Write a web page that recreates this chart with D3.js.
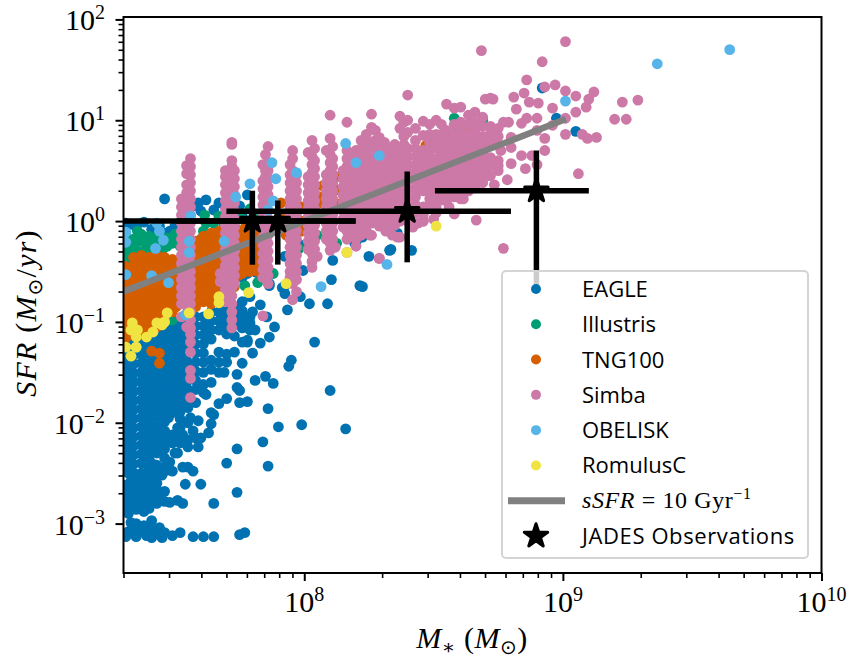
<!DOCTYPE html>
<html>
<head>
<meta charset="utf-8">
<script src="https://cdn.jsdelivr.net/npm/d3@7"></script>
<style>
  html, body { margin: 0; background: #fff; }
  svg { display: block; }
</style>
</head>
<body>
<div id="chart"></div>
<script>
// SFR vs stellar mass, simulations against JADES. All values are log10(M) and log10(SFR).

const legendNames = ["EAGLE", "Illustris", "TNG100", "Simba", "OBELISK", "RomulusC"];
const legendColors = ["#0072B2", "#009E73", "#D55E00", "#CC79A7", "#56B4E9", "#F0E442"];

const xMajor = [8, 9, 10];
const xMinor = [2e7, 3e7, 4e7, 5e7, 6e7, 7e7, 8e7, 9e7, 2e8, 3e8, 4e8, 5e8, 6e8, 7e8, 8e8, 9e8, 2e9, 3e9, 4e9, 5e9, 6e9, 7e9, 8e9, 9e9];
const yMajor = [-3, -2, -1, 0, 1, 2];
const yMinorFactors = [2, 3, 4, 5, 6, 7, 8, 9];

// columns: [log mass, [log sfr, ...]]
const eagleColumns = [
  [7.31, [-1.1,-1.19,-1.28,-1.37,-1.46,-1.55,-1.64,-1.73,-1.82,-1.91,-2.0,-2.09,-2.18,-2.27,-2.36,-2.42,-2.62,-2.7,-2.78,-2.85]],
  [7.34, [-1.15,-1.24,-1.33,-1.42,-1.51,-1.6,-1.69,-1.78,-1.87,-1.96,-2.05,-2.14,-2.23,-2.32,-2.41,-2.5,-2.66,-2.74,-2.82]],
  [7.37, [-1.05,-1.14,-1.23,-1.32,-1.41,-1.5,-1.59,-1.68,-1.77,-1.86,-1.95,-2.04,-2.13,-2.22,-2.31,-2.4,-2.5,-2.6,-2.7,-2.8]],
  [7.385, [-1.1,-1.28,-1.46,-1.64,-1.82,-2.0,-2.18,-2.36,-2.55]],
  [7.40, [-1.1,-1.19,-1.28,-1.37,-1.46,-1.55,-1.64,-1.73,-1.82,-1.91,-2.0,-2.09,-2.18,-2.27,-2.36,-2.45,-2.6,-2.72,-2.85]],
  [7.415, [-1.15,-1.33,-1.51,-1.69,-1.87,-2.05,-2.23,-2.41]],
  [7.43, [-.95,-1.04,-1.13,-1.22,-1.31,-1.4,-1.49,-1.58,-1.67,-1.76,-1.85,-1.94,-2.03,-2.12,-2.21,-2.3,-2.42,-2.66,-2.8]],
  [7.46, [-1.0,-1.09,-1.18,-1.27,-1.36,-1.45,-1.54,-1.63,-1.72,-1.81,-1.9,-1.99,-2.08,-2.17,-2.26,-2.35,-2.68,-2.78]],
  [7.475, [-1.05,-1.14,-1.23,-1.32,-1.41,-1.5,-1.59,-1.68,-1.77,-1.86,-1.95]],
  [7.49, [-1.0,-1.09,-1.18,-1.27,-1.36,-1.45,-1.54,-1.63,-1.72,-1.81,-1.9,-2.2]],
  [7.505, [-1.05,-1.14,-1.23,-1.32,-1.41,-1.5,-1.59,-1.68,-1.77,-1.86]],
  [7.52, [-1.0,-1.08,-1.17,-1.26,-1.35,-1.44,-1.53,-1.62,-1.71,-1.8,-1.89,-1.96,-2.05]],
  [7.535, [-1.05,-1.13,-1.22,-1.31,-1.4,-1.49,-1.58,-1.67]],
  [7.55, [-.95,-1.04,-1.13,-1.22,-1.31,-1.4,-1.49,-1.58,-1.67,-1.76,-1.85]],
  [7.58, [-.95,-1.04,-1.13,-1.22,-1.31,-1.4,-1.49,-1.58,-1.67,-1.8]],
  [7.61, [-.95,-1.04,-1.13,-1.22,-1.31,-1.4,-1.5,-1.62,-1.7]],
  [7.64, [-.9,-.99,-1.08,-1.17,-1.38,-1.47,-1.6]],
  [7.67, [-.9,-.99,-1.08,-1.3,-1.4,-1.5]],
  [7.70, [-.85,-.94,-1.03,-1.12,-1.32,-1.4]],
  [7.73, [-.85,-.94,-1.03,-1.14,-1.3]],
  [7.76, [-.8,-.89,-.98,-1.06,-1.2]],
  [7.79, [-.75,-.95,-1.08]]
];
const eagleScatter = [
  [8.04,-1.2],[8.1,-1.68],[8.16,-2.06],[7.99,-2.02],[7.9,-2.04],[7.84,-2.19],[7.86,-1.86],[7.74,-2.26],[7.7,-2.4],[7.86,-2.43],
  [7.74,-2.69],[7.65,-2.8],[7.54,-2.61],[7.6,-2.61],[7.48,-2.79],[7.51,-2.77],[7.53,-2.8],
  [7.31,-3.13],[7.33,-2.99],[7.35,-3.13],[7.35,-3.0],[7.38,-3.02],[7.41,-2.97],[7.41,-3.14],[7.44,-3.04],[7.45,-3.14],[7.49,-3.12],
  [7.52,-3.09],[7.57,-3.13],[7.61,-3.13],[7.65,-3.13],[7.75,-3.11],[7.77,-3.09],[7.32,-3.08],[7.37,-3.08],[7.39,-3.12],[7.42,-3.07],
  [7.34,-3.06],[7.4,-3.03],[7.43,-3.1],[7.46,-3.09],
  [7.69,-1.5],[7.74,-1.52],[7.81,-1.58],[7.85,-1.54],[7.88,-1.61],[7.94,-1.44],[7.95,-1.38],[7.8,-1.31],[7.76,-1.41],[7.78,-1.2],
  [7.83,-1.21],[7.74,-1.65],[7.75,-1.68],[7.62,-1.72],[7.7,-1.76],[7.67,-1.81],[7.75,-1.8],[7.78,-1.79],[7.64,-1.9],[7.65,-1.92],
  [7.59,-1.98],[7.64,-2.01],[7.63,-2.1],[7.6,-2.15],[7.59,-2.24],[7.55,-2.0],[7.51,-2.05],[7.49,-2.12],[7.48,-2.17],[7.55,-2.17],
  [7.55,-2.24],[7.51,-2.3],[7.48,-2.39],[7.45,-2.52],[7.4,-2.52],[7.49,-2.48],[7.53,-2.44],[7.55,-2.44],[7.57,-2.48],
  [7.995,-.49],[7.99,-.24],[7.925,-.35],[8.11,-.39],[8.2,-.21],[8.225,-.16],[8.25,-.35],[8.105,-.58],[8.225,-.65],[8.33,-.29],
  [7.925,-.64],[7.925,-.72],[7.985,-.75],[7.815,-.51],[7.78,-.52],[7.76,-.56],[7.865,-.62],[8.335,-.28],[8.415,-.29],[8.195,-.22],
  [8.36,-.12],[8.92,1.32],[8.975,1.02],[9.05,.89],[8.73,.78],[8.02,-.82],[8.09,-.82],[7.935,-.88],[7.915,-.66],[8.215,-.64],
  [7.865,-1.15],[7.885,-1.05],[7.78,-1.18],[7.855,-.95],[7.83,-.83],[7.8,-.9],[7.79,-1.01],[7.81,-1.08],[7.865,-.64],[7.815,-.49],
  [7.46,.22],[7.62,.21],[7.59,.18],[7.67,.18],[7.65,.11],[7.78,.26],[7.38,-.01],[7.33,-.03],[7.35,-.06],[7.41,-.08],[7.44,-.05],
  [7.46,-.12],[7.48,-.1],[7.5,-.05],[7.52,-.02],[7.53,.05],[7.6,.1],[7.57,.15],[7.72,.1],[7.75,.15],[7.76,.05],[7.7,.05],[7.31,-.02],
  [7.32,-2.5],[7.33,-2.58],[7.35,-2.56],[7.36,-2.62],[7.38,-2.55],[7.39,-2.66],[7.41,-2.66],[7.42,-2.55],[7.43,-2.6],[7.44,-2.72],
  [7.42,-2.78],[7.39,-2.78],[7.36,-2.74],[7.33,-2.74],[7.35,-2.86],[7.38,-2.88],[7.32,-2.9],[7.44,-2.48],[7.47,-2.47],[7.5,-2.3],
  [7.52,-2.2],[7.5,-2.14],[7.53,-2.12],[7.56,-1.95],[7.57,-2.08],[7.58,-2.15],[7.46,-2.44],[7.43,-2.48]
];

const illustrisPoints = [
  [7.31,-.15],[7.31,-.3],[7.33,-.28],[7.36,-.2],[7.37,-.13],[7.39,-.25],[7.4,-.15],[7.42,-.21],[7.44,-.28],[7.47,-.25],[7.5,-.13],
  [7.49,-.22],[7.52,-.25],[7.46,-.17],[7.34,-.18],[7.36,-.3],[7.41,-.3],[7.62,-.02],[7.61,-.1],[7.6,-.18],[7.63,-.22],[7.67,.05],
  [7.65,-.02],[7.69,-.03],[7.68,-.12],[7.66,-.12],[7.615,.06],[7.79,.12],[8.05,-.14],[8.22,-.01],[8.125,-.22],[7.88,-.52],[7.77,-.64],
  [7.82,-.61],[7.98,-.27],[8.29,.19],[8.7,.54],[8.58,1.02],[8.69,1.0],[8.59,.85],[8.59,.9],[8.23,-.01],[7.49,-.98],[7.8,-.05],
  [7.325,-.22],[7.345,-.27],[7.355,-.1],[7.38,-.19],[7.385,-.3],[7.405,-.24],[7.425,-.3],[7.435,-.16],[7.455,-.27],[7.48,-.17],
  [7.51,-.2],[7.53,-.18],[7.32,-.37],[7.345,-.33],[7.64,-.16],[7.665,-.18],[7.7,-.08],[7.76,.02],[7.78,-.02],[7.82,.06]
];

const tngColumns = [
  [7.31, [-.45,-.53,-.62,-.71,-.8,-.89,-.98,-1.07,-1.16]],
  [7.325, [-.49,-.58,-.67,-.76,-.85,-.94,-1.03,-1.12]],
  [7.34, [-.36,-.45,-.54,-.63,-.72,-.81,-.9,-.99,-1.1]],
  [7.355, [-.4,-.49,-.58,-.67,-.76,-.85,-.94,-1.03]],
  [7.37, [-.34,-.42,-.51,-.6,-.69,-.78,-.87,-.96,-1.05,-1.12]],
  [7.385, [-.38,-.47,-.56,-.65,-.74,-.83,-.92,-1.01]],
  [7.40, [-.36,-.45,-.54,-.63,-.72,-.81,-.9,-.99,-1.08]],
  [7.415, [-.4,-.49,-.58,-.67,-.76,-.85,-.94,-1.03]],
  [7.43, [-.34,-.42,-.51,-.6,-.69,-.78,-.87,-.96,-1.05]],
  [7.445, [-.38,-.47,-.56,-.65,-.74,-.83,-.92]],
  [7.46, [-.36,-.45,-.54,-.63,-.72,-.81,-.9,-.96]],
  [7.475, [-.4,-.49,-.58,-.67,-.76,-.85]],
  [7.49, [-.38,-.47,-.56,-.65,-.74,-.83,-.9]],
  [7.505, [-.42,-.51,-.6,-.69,-.78,-.85]],
  [7.52, [-.4,-.49,-.58,-.67,-.76,-.82]],
  [7.55, [-.3,-.39,-.48,-.57,-.66,-.75,-.8]],
  [7.58, [-.2,-.29,-.38,-.47,-.56,-.65,-.74,-.85]],
  [7.595, [-.25,-.34,-.43,-.52,-.61,-.7]],
  [7.61, [-.15,-.24,-.33,-.42,-.51,-.6,-.69,-.8]],
  [7.625, [-.2,-.29,-.38,-.47,-.56,-.65,-.74]],
  [7.64, [-.12,-.21,-.3,-.39,-.48,-.57,-.66,-.75,-.82]],
  [7.655, [-.17,-.26,-.35,-.44,-.53,-.62,-.71]],
  [7.67, [-.1,-.19,-.28,-.37,-.46,-.55,-.64,-.75]],
  [7.685, [-.15,-.24,-.33,-.42,-.51,-.6,-.68]],
  [7.70, [-.1,-.19,-.28,-.37,-.46,-.55,-.64,-.72]],
  [7.73, [-.05,-.14,-.23,-.32,-.41,-.5,-.58,-.65]],
  [7.745, [-.09,-.18,-.27,-.36,-.45,-.54]],
  [7.76, [-.1,-.19,-.28,-.37,-.46,-.52]],
  [7.775, [-.05,-.14,-.23,-.32,-.41,-.48]],
  [7.79, [0,-.09,-.18,-.27,-.36,-.45,-.5]],
  [7.82, [-.1,-.19,-.28,-.37,-.45,-.5]]
];
const tngScatter = [
  [7.41,-1.29],[7.44,-1.31],[7.44,-1.41],[7.62,-.74],[7.58,-.83],[8.49,.73],[8.47,.75],[8.5,.74],[8.63,.87],[8.66,.9],
  [7.99,.14],[7.99,0],[7.99,-.1],[7.93,-.14],[8.06,.18],[8.07,.35],[8.12,.18],[8.125,.31],[8.18,.33],[8.125,.44],
  [8.06,.24],[8.265,.39],[8.32,.36],[7.91,.18],[7.91,.05],[8.04,.02]
];

const simbaColumns = [
  [7.525, [.22,.14,.06,-.02,-.1,-.18,-.26,-.34,-.42,-.5,-.58,-.66,-.74,-.82,-.95]],
  [7.545, [.55,.47,.36,.28,.2,.12,.04,-.04,-.12,-.2,-.28,-.36,-.44,-.52,-.6,-.68,-.76,-.84,-.92,-1.05]],
  [7.56, [.62,.54,.46,.38,.3,.22,.14,.06,-.02,-.1,-.18,-.26,-.34,-.42,-.5,-.58,-.66,-.74,-.82,-.9,-.98,-1.06,-1.12,-1.2,-1.3,-1.48,-1.56,-1.75]],
  [7.675, [-.52,-.6]],
  [7.695, [.5,.44,.36,.28,.2,.12,.04,-.04,-.12,-.2,-.28,-.36,-.44,-.52,-.6,-.68,-.76,-.8]],
  [7.72, [.78,.76,.6,.54,.46,.38,.3,.22,.14,.06,-.02,-.1,-.18,-.26,-.34,-.42,-.5,-.58,-.66,-.74,-.82,-.9,-.98,-1.06]],
  [7.73, [.5,.42,.34,.26,.18,.1,.02,-.06,-.14,-.22,-.3,-.38,-.46,-.54,-.62]],
  [7.84, [.56,.4,.32,.24,.16,.08,0,-.08,-.16,-.24,-.32,-.4,-.48,-.56,-.94]],
  [7.85, [.66,.5,.44,.36,.28,.2,.12,.04,-.04,-.12,-.2,-.28,-.36,-.44,-.52]],
  [7.86, [.74,.58,.5,.42,.34,.26,.18,.1,.02,-.06,-.14,-.22,-.3,-.38,-.46,-.54,-.62]],
  [7.945, [.56,.46,.38,.3,.22,.14,.06,-.02,-.1,-.18,-.26,-.34,-.42,-.5,-.56]],
  [7.955, [.7,.62,.5,.42,.34,.26,.18,.1,.02,-.06,-.14,-.22,-.3,-.38,-.46,-.54,-.62,-.78]],
  [7.97, [.46,.38,.3,.22,.14,.06,-.02,-.1,-.18,-.26,-.34,-.42,-.5,-.58,-.7]],
  [8.015, [.68,.44,.36,.28,.2,.12,.04,-.04,-.12,-.2,-.28]],
  [8.03, [.8,.64,.56,.48,.4,.32,.24,.16,.08,0,-.08,-.16,-.24,-.32,-.4,-.46]],
  [8.04, [.72,.6,.52,.44,.36,.28,.2,.12,.04,-.04,-.12,-.2,-.28]],
  [8.085, [.7,.46,.38,.3,.22,.14,.06,-.02,-.1,-.18]],
  [8.1, [1.05,.82,.66,.58,.5,.42,.34,.26,.18,.1,.02,-.06,-.14,-.22,-.29]],
  [8.11, [.74,.62,.54,.46,.38,.3,.22,.14,.06,-.02,-.1,-.18]],
  [8.15, [.5,.42,.34,.26,.18,.1,.02,-.06]],
  [8.165, [.98,.7,.62,.54,.46,.38,.3,.22,.14,.06,-.02,-.1,-.18,-.31]],
  [8.18, [.66,.58,.5,.42,.34,.26,.18,.1,.02,-.06,-.14]],
  [8.2, [.7,.62,.54,.46,.38,.3,.22,.14,.06,-.02,-.1,-.18]],
  [8.22, [.8,.72,.64,.56,.48,.4,.32,.24,.16,.08,0,-.08,-.14]],
  [8.24, [.86,.76,.68,.6,.52,.44,.36,.28,.2,.12,.04,-.04,-.1]],
  [8.26, [1.06,.93,.78,.62,.54,.46,.38,.3,.22,.14,.06,-.02,-.14]],
  [8.275, [.9,.8,.72,.64,.56,.48,.4,.32,.24,.16,.08,0]],
  [8.29, [.83,.75,.67,.59,.51,.43,.35,.27,.19,.11,.03,-.05,-.37]],
  [8.31, [.78,.7,.62,.54,.46,.38,.3,.22,.14,.06,-.02]],
  [8.33, [.72,.64,.56,.48,.4,.32,.24,.16,.08,0,-.08]],
  [8.35, [.76,.68,.6,.52,.44,.36,.28,.2,.12,.04,-.04]],
  [8.37, [1.04,.92,.72,.64,.56,.48,.4,.32,.24,.16,.08,0,-.16]],
  [8.385, [.98,.84,.76,.68,.6,.52,.44,.36,.28,.2,.12,.04]],
  [8.4, [1.25,1.0,.88,.72,.64,.56,.48,.4,.32,.24,.16,.08,0]],
  [8.43, [.92,.8,.72,.64,.56,.48,.4,.32,.24,.16,.08]],
  [8.46, [.99,.85,.7,.62,.54,.46,.38,.3,.14,.06,0]],
  [8.485, [.96,.86,.78,.7,.62,.54,.46,.38,.3,.22,.15]],
  [8.51, [1.0,.86,.78,.72,.62,.54,.46,.38,.3,.22,.14,.08]],
  [8.53, [.96,.86,.78,.7,.62,.54,.46,.38,.3,.24]],
  [8.55, [1.16,.9,.82,.74,.66,.58,.5,.42,.34,.26,.2]],
  [8.58, [1.12,.96,.86,.78,.7,.62,.54,.46,.38,.3,.24]],
  [8.605, [1.13,.98,.9,.82,.74,.66,.58,.5,.42,.34,.26,.22]],
  [8.635, [1.05,.96,.86,.78,.7,.62,.54,.46,.38,.3]],
  [8.66, [1.08,.98,.9,.82,.73,.65,.57,.49,.41,.33]],
  [8.69, [1.03,.94,.84,.76,.68,.6,.52,.44,.38]],
  [8.72, [1.22,.94,.87,.79,.63,.55,.45]],
  [8.75, [.92,.84,.76,.6,.5]]
];
const simbaScatter = [
  [8.685,1.69],[9.01,1.78],[8.92,1.58],[8.86,1.4],[8.93,1.33],[8.97,1.35],[8.7,1.21],[8.73,1.21],[8.81,1.23],[8.85,1.27],[9.01,1.29],
  [9.05,1.24],[9.12,1.28],[9.1,1.21],[9.09,1.13],[9.05,1.08],[9.23,1.18],[9.29,1.2],[9.2,1.01],[9.245,1.01],[8.96,1.12],[8.905,1.17],
  [8.87,1.18],[8.82,1.11],[9.01,1.02],[9.01,.86],[9.075,.86],[9.095,.82],[9.13,.83],[8.93,.82],[8.93,.7],[9.06,.47],[8.785,.41],
  [8.735,.36],[8.615,.22],[8.71,.45],[8.9,.56],[8.88,.65],[8.84,.65],[8.8,.57],[8.855,.52],[8.77,.98],[8.79,.98],[8.86,1.02],
  [8.9,1.02],[8.84,.97],[8.8,.83],[8.8,.73],[8.72,.62],[8.48,.15],[8.535,.21],[8.58,.07],[8.46,0],[8.665,.01],
  [8.77,-.27],[8.315,-.1],[8.255,-.14],[8.29,-.37],[8.36,-.16],[8.9,.9],[8.96,.95],[8.76,.7],[8.68,.75],[8.75,.55],
  [8.2,-.25],[8.12,-.26],[8.05,-.35],[8.34,-.14],[8.42,-.06],[8.44,-.02],[8.5,.02],[8.56,.14],[8.62,.3]
];

const obeliskPoints = [
  [9.645,1.7],[9.365,1.56],[9.01,1.19],[8.16,.77],[8.2,.58],[8.29,.65],[7.875,.58],[7.89,.42],[7.97,.48],[7.79,.37],[7.735,.24],
  [7.56,.05],[7.555,-.2],[7.555,-.31],[7.69,-.2],[7.88,.2],[7.86,.11],[7.31,-.11],[7.44,-.1],[7.455,-.19],[7.425,-.27],[7.31,-.53],
  [7.41,-.54],[7.475,-.61],[8.065,-.65],[8.32,-.43],[7.54,-.93],[7.31,-.21],[7.43,-.02],[7.35,-1.25]
];
const romulusPoints = [
  [8.165,-.31],[8.51,-.05],[7.93,-.62],[7.785,-.71],[7.67,-.75],[7.67,-.81],[7.63,-.92],[7.555,-.91],[7.47,-.91],[7.455,-1.01],
  [7.43,-1.01],[7.415,-1.1],[7.39,-1.15],[7.355,-1.08],[7.335,-1.01],[7.33,-1.08],[7.35,-1.15],[7.35,-1.25],[7.33,-1.34],[7.31,-1.25],
  [7.45,-1.03],[7.46,-1.0]
];

// sSFR = 10 / Gyr reference line
const ssfrMass = [2e7, 1e9];
const ssfrRate = [0.2, 10];

// JADES points with error ranges
const jadesMass = [6.3e7, 7.9e7, 2.5e8, 7.9e8];
const jadesMassLow = [1.6e7, 3.2e7, 5e7, 3.2e8];
const jadesMassHigh = [1.58e8, 1.58e8, 6.3e8, 1.26e9];
const jadesSfr = [1, 1, 1.25, 2];
const jadesSfrLow = [0.37, 0.37, 0.39, 0.2];
const jadesSfrHigh = [2, 1.6, 3.1, 5];

const width = 849;
const height = 658;
const plot = { left: 123.5, right: 821.5, top: 17, bottom: 573 };

const columnsToDots = cols => cols.flatMap(([m, list]) => list.map(s => [m, s]));

const seriesDots = [
  columnsToDots(eagleColumns).concat(eagleScatter),
  illustrisPoints,
  columnsToDots(tngColumns).concat(tngScatter),
  columnsToDots(simbaColumns).concat(simbaScatter),
  obeliskPoints,
  romulusPoints
];

const x = d3.scaleLog().domain([2e7, 1e10]).range([plot.left, plot.right]);
const y = d3.scaleLog().domain([Math.pow(10, -3.49), Math.pow(10, 2.024)]).range([plot.bottom, plot.top]);

const svg = d3.select("#chart").append("svg")
  .attr("width", width)
  .attr("height", height);

svg.append("clipPath").attr("id", "plotClip")
  .append("rect")
  .attr("x", plot.left)
  .attr("y", plot.top)
  .attr("width", plot.right - plot.left)
  .attr("height", plot.bottom - plot.top);

const marks = svg.append("g").attr("clip-path", "url(#plotClip)");

// Points, one layer per simulation
seriesDots.forEach((dots, i) => {
  marks.append("g").selectAll("circle")
    .data(dots)
    .join("circle")
    .attr("cx", d => x(Math.pow(10, d[0])))
    .attr("cy", d => y(Math.pow(10, d[1])))
    .attr("r", 5.4)
    .attr("fill", legendColors[i]);
});

// Reference line
marks.append("line")
  .attr("x1", x(ssfrMass[0]))
  .attr("y1", y(ssfrRate[0]))
  .attr("x2", x(ssfrMass[1]))
  .attr("y2", y(ssfrRate[1]))
  .attr("stroke", "#808080")
  .attr("stroke-width", 6.5)
  .attr("stroke-linecap", "square");

// Error bars and stars
const starPath = d3.symbol().type(d3.symbolStar).size(170);
function drawStar(sel, px, py) {
  sel.append("path")
    .attr("d", starPath())
    .attr("transform", `translate(${px},${py})`)
    .attr("fill", "#000")
    .attr("stroke", "#000")
    .attr("stroke-width", 3)
    .attr("stroke-linejoin", "round");
}
jadesMass.forEach((m, i) => {
  marks.append("line")
    .attr("x1", x(jadesMassLow[i])).attr("x2", x(jadesMassHigh[i]))
    .attr("y1", y(jadesSfr[i])).attr("y2", y(jadesSfr[i]))
    .attr("stroke", "#000").attr("stroke-width", 5.5);
  marks.append("line")
    .attr("x1", x(m)).attr("x2", x(m))
    .attr("y1", y(jadesSfrLow[i])).attr("y2", y(jadesSfrHigh[i]))
    .attr("stroke", "#000").attr("stroke-width", 5.5);
  drawStar(marks, x(m), y(jadesSfr[i]));
});

// Axes
const yMinor = yMajor.slice(0, -1).flatMap(e => yMinorFactors.map(f => f * Math.pow(10, e)));

function styleTicks(g) {
  g.select(".domain").remove();
  g.selectAll("line").attr("stroke", "#000");
  g.selectAll("text").remove();
}

svg.append("g")
  .attr("transform", `translate(0,${plot.bottom})`)
  .call(d3.axisBottom(x).tickValues(xMinor).tickSize(5))
  .call(styleTicks)
  .selectAll("line").attr("stroke-width", 1.6);
svg.append("g")
  .attr("transform", `translate(0,${plot.bottom})`)
  .call(d3.axisBottom(x).tickValues(xMajor.map(e => Math.pow(10, e))).tickSize(8))
  .call(styleTicks)
  .selectAll("line").attr("stroke-width", 2);

svg.append("g")
  .attr("transform", `translate(${plot.left},0)`)
  .call(d3.axisLeft(y).tickValues(yMinor).tickSize(5))
  .call(styleTicks)
  .selectAll("line").attr("stroke-width", 1.6);
svg.append("g")
  .attr("transform", `translate(${plot.left},0)`)
  .call(d3.axisLeft(y).tickValues(yMajor.map(e => Math.pow(10, e))).tickSize(8))
  .call(styleTicks)
  .selectAll("line").attr("stroke-width", 2);

svg.append("rect")
  .attr("x", plot.left)
  .attr("y", plot.top)
  .attr("width", plot.right - plot.left)
  .attr("height", plot.bottom - plot.top)
  .attr("fill", "none")
  .attr("stroke", "#000")
  .attr("stroke-width", 2);

// Tick labels as 10 with a raised exponent
const serif = "'Liberation Serif', 'DejaVu Serif', serif";

function powerLabel(sel, exponent) {
  sel.attr("font-family", serif).attr("fill", "#000");
  sel.append("tspan").attr("font-size", 30).text("10");
  sel.append("tspan").attr("font-size", 20).attr("dy", -11).text(String(exponent).replace("-", "\u2212"));
}

xMajor.forEach(e => {
  svg.append("text")
    .attr("x", x(Math.pow(10, e)))
    .attr("y", 612)
    .attr("text-anchor", "middle")
    .call(powerLabel, e);
});
yMajor.forEach(e => {
  svg.append("text")
    .attr("x", 105)
    .attr("y", y(Math.pow(10, e)) + 11)
    .attr("text-anchor", "end")
    .call(powerLabel, e);
});

// Axis titles
const xTitle = svg.append("text")
  .attr("x", 472)
  .attr("y", 648)
  .attr("text-anchor", "middle")
  .attr("font-family", serif)
  .attr("font-size", 30)
  .attr("letter-spacing", 0.5);
xTitle.append("tspan").attr("font-style", "italic").text("M");
xTitle.append("tspan").attr("font-size", 20).attr("dy", 6).text("\u2217");
xTitle.append("tspan").attr("dy", -6).text(" (");
xTitle.append("tspan").attr("font-style", "italic").text("M");
xTitle.append("tspan").attr("font-size", 20).attr("dy", 6).attr("font-family", "'DejaVu Sans'").text("\u2299");
xTitle.append("tspan").attr("dy", -6).text(")");

const yTitle = svg.append("text")
  .attr("transform", "translate(36,313) rotate(-90)")
  .attr("text-anchor", "middle")
  .attr("font-family", serif)
  .attr("font-size", 30)
  .attr("letter-spacing", 1.2);
yTitle.append("tspan").attr("font-style", "italic").text("SFR");
yTitle.append("tspan").text(" (");
yTitle.append("tspan").attr("font-style", "italic").text("M");
yTitle.append("tspan").attr("font-size", 20).attr("dy", 6).attr("font-family", "'DejaVu Sans'").text("\u2299");
yTitle.append("tspan").attr("dy", -6).text("/");
yTitle.append("tspan").attr("font-style", "italic").text("yr");
yTitle.append("tspan").text(")");

// Legend
const sans = "'Open Sans', 'Noto Sans', sans-serif";
const legend = svg.append("g");
legend.append("rect")
  .attr("x", 502)
  .attr("y", 271)
  .attr("width", 306)
  .attr("height", 287)
  .attr("rx", 4)
  .attr("fill", "rgba(255,255,255,0.8)")
  .attr("stroke", "#d4d4d4")
  .attr("stroke-width", 2);

const legendRow = d3.scalePoint().domain(d3.range(8)).range([289, 536]);

legendNames.forEach((name, i) => {
  legend.append("circle")
    .attr("cx", 536)
    .attr("cy", legendRow(i))
    .attr("r", 5)
    .attr("fill", legendColors[i]);
  legend.append("text")
    .attr("x", 582)
    .attr("y", legendRow(i) + 8)
    .attr("font-family", sans)
    .attr("font-size", 22)
    .attr("fill", "#000")
    .text(name);
});

legend.append("line")
  .attr("x1", 508).attr("x2", 565)
  .attr("y1", legendRow(6)).attr("y2", legendRow(6))
  .attr("stroke", "#808080")
  .attr("stroke-width", 7);
const ssfrText = legend.append("text")
  .attr("x", 582)
  .attr("y", legendRow(6) + 7)
  .attr("font-family", serif)
  .attr("font-size", 24)
  .attr("letter-spacing", 0.6);
ssfrText.append("tspan").attr("font-style", "italic").text("sSFR");
ssfrText.append("tspan").text(" = 10 Gyr");
ssfrText.append("tspan").attr("font-size", 16).attr("dy", -9).text("\u22121");

drawStar(legend, 536, legendRow(7));
legend.append("text")
  .attr("x", 582)
  .attr("y", legendRow(7) + 8)
  .attr("font-family", sans)
  .attr("font-size", 22)
  .attr("letter-spacing", 0.6)
  .attr("fill", "#000")
  .text("JADES Observations");
</script>
</body>
</html>
